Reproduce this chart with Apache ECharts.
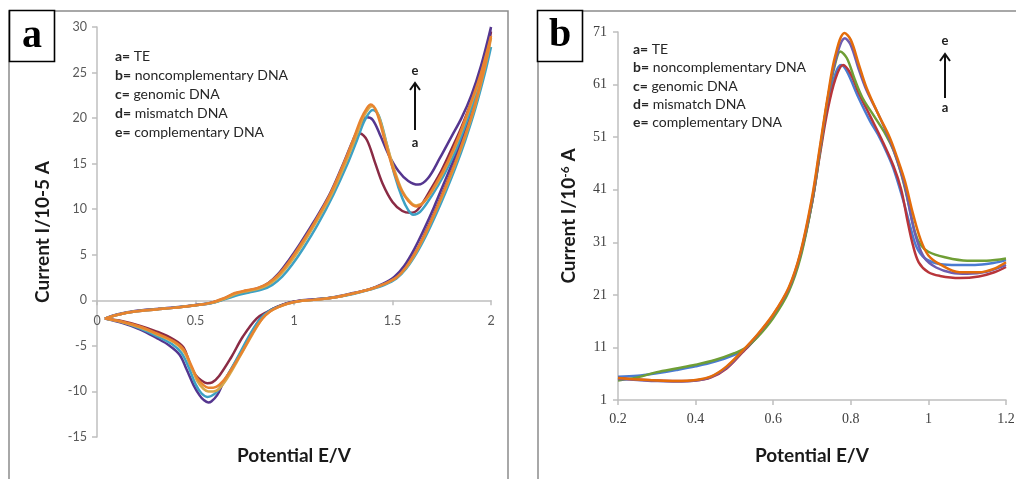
<!DOCTYPE html>
<html><head><meta charset="utf-8">
<script src="https://cdn.jsdelivr.net/npm/echarts@6/dist/echarts.min.js"></script>
<style>html,body{margin:0;padding:0;background:#fff}#c{width:1016px;height:479px}</style>
</head><body><div id="c"></div>
<script>
// ---------- Panel a : cyclic voltammograms (E/V, I/1e-5 A) ----------
const legendNames = ['TE','noncomplementary DNA','genomic DNA','mismatch DNA','complementary DNA'];
const legendLetters = ['a','b','c','d','e'];
const xTicksA = [0,0.5,1,1.5,2];
const yTicksA = [-15,-10,-5,0,5,10,15,20,25,30];
const xTicksB = [0.2,0.4,0.6,0.8,1,1.2];
const yTicksB = [1,11,21,31,41,51,61,71];

const cvA_fwd = [[0.04,-2.0],[0.1,-1.6],[0.2,-1.2],[0.3,-1.0],[0.4,-0.8],[0.5,-0.55],[0.58,-0.3],[0.64,0.1],[0.7,0.7],[0.76,1.0],[0.82,1.3],[0.87,1.8],[0.92,2.8],[0.97,4.2],[1.03,6.0],[1.1,8.4],[1.18,11.4],[1.25,14.8],[1.3,17.2],[1.335,18.3],[1.37,17.6],[1.41,15.2],[1.45,12.8],[1.5,10.8],[1.55,9.8],[1.59,9.6],[1.63,10.0],[1.7,12.4],[1.75,14.3],[1.8,16.6],[1.85,19.0],[1.9,21.8],[1.95,25.2],[2.0,29.5]];
const cvA_rev = [[1.97,26.0],[1.92,21.8],[1.87,18.3],[1.82,15.3],[1.77,12.6],[1.72,10.0],[1.67,7.6],[1.62,5.4],[1.57,3.7],[1.52,2.5],[1.46,1.8],[1.39,1.25],[1.3,0.75],[1.2,0.3],[1.1,0.08],[1.03,-0.05],[0.96,-0.35],[0.91,-0.75],[0.87,-1.2],[0.81,-2.0],[0.74,-4.0],[0.68,-6.3],[0.62,-8.3],[0.585,-9.0],[0.56,-9.1],[0.53,-8.8],[0.5,-8.2],[0.47,-6.9],[0.44,-5.2],[0.39,-4.3],[0.3,-3.4],[0.22,-2.8],[0.13,-2.3],[0.04,-2.0]];

const cvB_fwd = [[0.04,-2.0],[0.1,-1.55],[0.2,-1.15],[0.3,-0.95],[0.4,-0.75],[0.5,-0.5],[0.58,-0.25],[0.64,0.15],[0.7,0.75],[0.76,1.05],[0.82,1.35],[0.87,1.9],[0.92,2.9],[0.97,4.3],[1.03,6.2],[1.1,8.6],[1.18,11.6],[1.25,15.0],[1.3,17.6],[1.34,19.4],[1.37,20.1],[1.4,19.8],[1.44,18.0],[1.48,16.0],[1.53,14.2],[1.58,13.1],[1.63,12.7],[1.68,13.4],[1.74,15.6],[1.8,18.0],[1.85,20.0],[1.9,22.5],[1.95,25.8],[2.0,30.0]];
const cvB_rev = [[1.96,25.4],[1.91,21.6],[1.86,18.2],[1.81,15.4],[1.76,12.8],[1.71,10.2],[1.66,7.8],[1.61,5.6],[1.56,3.8],[1.51,2.6],[1.45,1.8],[1.38,1.2],[1.3,0.8],[1.2,0.35],[1.1,0.1],[1.04,0.0],[0.97,-0.3],[0.92,-0.7],[0.88,-1.1],[0.83,-2.0],[0.78,-3.8],[0.71,-6.5],[0.64,-9.1],[0.61,-10.4],[0.58,-11.1],[0.565,-11.2],[0.54,-10.9],[0.52,-10.4],[0.49,-9.3],[0.455,-7.6],[0.42,-6.0],[0.37,-5.0],[0.3,-4.1],[0.22,-3.2],[0.13,-2.5],[0.04,-2.0]];

const cvC_fwd = [[0.04,-2.0],[0.1,-1.6],[0.2,-1.2],[0.3,-1.0],[0.4,-0.8],[0.5,-0.55],[0.6,-0.2],[0.66,0.2],[0.72,0.6],[0.78,0.9],[0.84,1.2],[0.89,1.7],[0.94,2.6],[0.99,3.9],[1.05,5.8],[1.12,8.3],[1.2,11.6],[1.27,14.9],[1.32,17.6],[1.36,19.8],[1.4,20.9],[1.43,20.3],[1.47,17.2],[1.51,13.8],[1.55,11.2],[1.58,9.9],[1.605,9.4],[1.64,9.7],[1.7,11.5],[1.76,13.7],[1.82,16.4],[1.88,19.8],[1.94,23.5],[2.0,27.8]];
const cvC_rev = [[1.97,25.0],[1.92,21.0],[1.87,17.6],[1.82,14.6],[1.77,11.9],[1.72,9.4],[1.67,7.1],[1.62,5.1],[1.57,3.5],[1.52,2.4],[1.46,1.7],[1.39,1.2],[1.3,0.7],[1.2,0.3],[1.1,0.05],[1.04,-0.05],[0.97,-0.35],[0.92,-0.7],[0.88,-1.1],[0.83,-2.0],[0.78,-3.6],[0.72,-6.0],[0.65,-8.7],[0.61,-10.0],[0.58,-10.5],[0.56,-10.6],[0.53,-10.2],[0.5,-9.2],[0.47,-7.6],[0.43,-5.8],[0.38,-4.8],[0.3,-3.9],[0.22,-3.1],[0.13,-2.4],[0.04,-2.0]];

const cvD_fwd = [[0.04,-2.0],[0.1,-1.6],[0.2,-1.2],[0.3,-1.0],[0.4,-0.8],[0.5,-0.55],[0.59,-0.25],[0.65,0.2],[0.71,0.75],[0.77,1.05],[0.83,1.35],[0.88,1.85],[0.93,2.8],[0.98,4.1],[1.04,6.0],[1.11,8.5],[1.19,11.6],[1.26,15.0],[1.31,17.7],[1.35,20.0],[1.38,21.1],[1.4,21.3],[1.43,20.2],[1.47,17.2],[1.51,14.3],[1.55,12.0],[1.59,10.8],[1.62,10.4],[1.66,10.8],[1.72,12.6],[1.78,15.0],[1.84,18.0],[1.9,21.6],[1.95,24.8],[2.0,28.8]];
const cvD_rev = [[1.97,25.6],[1.92,21.4],[1.87,18.0],[1.82,15.0],[1.77,12.3],[1.72,9.8],[1.67,7.4],[1.62,5.3],[1.57,3.6],[1.52,2.5],[1.46,1.8],[1.39,1.25],[1.3,0.75],[1.2,0.3],[1.1,0.05],[1.04,-0.05],[0.97,-0.35],[0.92,-0.75],[0.88,-1.2],[0.84,-2.0],[0.79,-3.7],[0.73,-6.0],[0.66,-8.6],[0.62,-9.7],[0.59,-10.0],[0.565,-10.0],[0.54,-9.7],[0.51,-8.9],[0.48,-7.4],[0.44,-5.6],[0.39,-4.6],[0.3,-3.7],[0.22,-3.0],[0.13,-2.4],[0.04,-2.0]];

const cvE_fwd = [[0.04,-2.0],[0.1,-1.6],[0.2,-1.2],[0.3,-1.0],[0.4,-0.8],[0.5,-0.55],[0.58,-0.25],[0.64,0.2],[0.7,0.8],[0.76,1.1],[0.82,1.4],[0.87,1.9],[0.92,2.8],[0.97,4.1],[1.03,6.0],[1.1,8.4],[1.18,11.5],[1.25,14.9],[1.3,17.6],[1.34,19.9],[1.37,21.1],[1.39,21.5],[1.42,20.6],[1.46,17.6],[1.5,14.6],[1.54,12.3],[1.58,10.9],[1.62,10.3],[1.66,10.8],[1.72,12.8],[1.78,15.2],[1.84,18.2],[1.9,21.8],[1.95,25.0],[2.0,29.0]];
const cvE_rev = [[1.97,25.8],[1.92,21.6],[1.87,18.2],[1.82,15.2],[1.77,12.5],[1.72,9.9],[1.67,7.5],[1.62,5.4],[1.57,3.7],[1.52,2.5],[1.46,1.8],[1.39,1.25],[1.3,0.75],[1.2,0.3],[1.1,0.05],[1.04,-0.05],[0.97,-0.35],[0.92,-0.75],[0.88,-1.2],[0.84,-2.0],[0.79,-3.6],[0.73,-5.9],[0.66,-8.3],[0.62,-9.3],[0.59,-9.6],[0.565,-9.6],[0.54,-9.3],[0.51,-8.6],[0.48,-7.2],[0.44,-5.4],[0.39,-4.5],[0.3,-3.6],[0.22,-2.9],[0.13,-2.35],[0.04,-2.0]];

// ---------- Panel b : DPV (E/V, I/1e-6 A) ----------
const dpvA = [[0.2,5.2],[0.25,4.9],[0.3,4.7],[0.35,4.6],[0.4,4.7],[0.44,5.3],[0.48,7.0],[0.52,10.0],[0.56,13.2],[0.6,17.0],[0.64,22.0],[0.67,28.5],[0.7,38.5],[0.72,47.5],[0.74,56.0],[0.76,62.0],[0.78,64.7],[0.8,63.0],[0.82,59.5],[0.85,55.0],[0.88,50.5],[0.91,45.5],[0.93,41.0],[0.945,35.5],[0.96,30.5],[0.975,27.2],[1.0,25.3],[1.03,24.6],[1.08,24.2],[1.13,24.5],[1.17,25.3],[1.2,26.3]];
const dpvB = [[0.2,5.4],[0.25,5.6],[0.3,6.1],[0.35,6.7],[0.4,7.4],[0.45,8.3],[0.5,9.6],[0.53,10.8],[0.56,13.2],[0.6,17.0],[0.64,22.0],[0.67,28.5],[0.7,38.5],[0.72,48.0],[0.74,57.0],[0.76,63.0],[0.775,64.7],[0.79,63.5],[0.82,58.5],[0.85,54.0],[0.87,51.5],[0.89,48.5],[0.91,45.0],[0.935,39.0],[0.955,33.5],[0.97,30.0],[0.99,28.0],[1.02,27.0],[1.06,26.7],[1.12,26.7],[1.17,27.1],[1.2,27.6]];
const dpvC = [[0.2,4.7],[0.25,5.3],[0.3,6.3],[0.35,7.0],[0.4,7.7],[0.45,8.6],[0.5,9.9],[0.53,11.0],[0.56,13.0],[0.6,16.6],[0.64,21.6],[0.67,28.0],[0.7,38.5],[0.72,48.0],[0.74,58.0],[0.76,65.0],[0.773,67.3],[0.79,66.0],[0.81,62.0],[0.83,58.5],[0.86,55.0],[0.89,51.5],[0.91,48.5],[0.93,44.0],[0.95,38.0],[0.965,33.0],[0.98,30.5],[1.0,29.2],[1.04,28.2],[1.1,27.5],[1.15,27.5],[1.2,27.9]];
const dpvD = [[0.2,5.0],[0.25,4.8],[0.3,4.6],[0.35,4.5],[0.4,4.7],[0.44,5.4],[0.48,7.2],[0.52,10.2],[0.56,13.4],[0.6,17.2],[0.64,22.2],[0.67,28.8],[0.7,39.0],[0.72,48.5],[0.74,58.0],[0.76,65.5],[0.785,69.8],[0.8,68.5],[0.82,64.0],[0.84,60.0],[0.87,55.5],[0.9,50.5],[0.92,46.5],[0.94,41.5],[0.955,36.0],[0.97,31.5],[0.99,28.0],[1.02,26.2],[1.06,25.2],[1.1,25.0],[1.15,25.4],[1.2,26.7]];
const dpvE = [[0.2,5.2],[0.25,4.9],[0.3,4.7],[0.35,4.6],[0.4,4.8],[0.44,5.5],[0.48,7.4],[0.52,10.3],[0.56,13.5],[0.6,17.3],[0.64,22.4],[0.67,29.0],[0.7,39.5],[0.72,49.0],[0.74,58.5],[0.76,66.5],[0.784,70.8],[0.8,69.5],[0.82,65.0],[0.84,60.5],[0.87,55.5],[0.9,51.0],[0.92,47.0],[0.94,42.5],[0.96,36.5],[0.98,31.5],[1.0,28.5],[1.03,26.8],[1.08,25.3],[1.13,25.3],[1.17,26.0],[1.2,27.2]];

const colorsA = ['#8a2b45','#55368f','#3da1c4','#d6a84a','#e8832f'];
const colorsB = ['#b8353a','#4a7bd1','#6f9e35','#6e5db0','#e46c0a'];

const curvesA = [cvA_fwd.concat(cvA_rev), cvB_fwd.concat(cvB_rev), cvC_fwd.concat(cvC_rev), cvD_fwd.concat(cvD_rev), cvE_fwd.concat(cvE_rev)];
const curvesB = [dpvA, dpvB, dpvC, dpvD, dpvE];
const orderB = [1,0,2,3,4];

const FONT = 'Lato, "Open Sans", sans-serif';
const axisGray = '#bfbfbf';
const labelGray = '#595959';

// panel a geometry: the x axis crosses the y axis at I = 0
const gridA = {left:97, top:27, width:394, height:410};
const yMinA = -15, yMaxA = 30;
const zeroOffsetA = -gridA.height * (0 - yMinA) / (yMaxA - yMinA);

const chart = echarts.init(document.getElementById('c'), null, {renderer:'canvas'});

const series = [];
curvesA.forEach((d,i)=>series.push({type:'line', name:legendLetters[i]+'= '+legendNames[i], xAxisIndex:0, yAxisIndex:0, data:d, smooth:0.35, showSymbol:false, lineStyle:{width:2.5, color:colorsA[i]}, itemStyle:{color:colorsA[i]}, z:2+i}));
orderB.forEach((i,k)=>series.push({type:'line', name:'b-'+legendLetters[i]+'= '+legendNames[i], xAxisIndex:1, yAxisIndex:1, data:curvesB[i], smooth:0.35, showSymbol:false, lineStyle:{width:2.5, color:colorsB[i]}, itemStyle:{color:colorsB[i]}, z:2+k}));

function legendGraphics(x0, ys, size){
  return legendLetters.map((l,i)=>({type:'text', x:x0, y:ys[i], z:100, style:{text:'{b|'+l+'=} '+legendNames[i], rich:{b:{fontWeight:'bold', fontSize:size, fontFamily:FONT, fill:'#262626'}}, fontSize:size, fontFamily:FONT, fill:'#262626', verticalAlign:'middle'}}));
}
function arrow(x, yTop, yBot, yE, yA){
  return [
    {type:'text', x:x, y:yE, z:100, style:{text:'e', fontSize:13, fontWeight:'bold', fontFamily:FONT, fill:'#222', align:'center', verticalAlign:'middle'}},
    {type:'line', z:100, shape:{x1:x, y1:yBot, x2:x, y2:yTop+1}, style:{stroke:'#111', lineWidth:2}},
    {type:'polyline', z:100, shape:{points:[[x-5,yTop+7],[x,yTop],[x+5,yTop+7]]}, style:{stroke:'#111', lineWidth:2, fill:null}},
    {type:'text', x:x, y:yA, z:100, style:{text:'a', fontSize:13, fontWeight:'bold', fontFamily:FONT, fill:'#222', align:'center', verticalAlign:'middle'}}
  ];
}

const graphics = [
  {type:'rect', z:50, shape:{x:9, y:11, width:499, height:490}, style:{fill:null, stroke:'#8c8c8c', lineWidth:1.5}},
  {type:'rect', z:50, shape:{x:538, y:11, width:500, height:490}, style:{fill:null, stroke:'#8c8c8c', lineWidth:1.5}},
  {type:'rect', z:60, shape:{x:9.5, y:10.5, width:45, height:51}, style:{fill:'#fff', stroke:'#000', lineWidth:1.6}},
  {type:'text', z:61, x:32, y:37, style:{text:'a', fontSize:40, fontWeight:'bold', fontFamily:'"Liberation Serif", serif', fill:'#000', align:'center', verticalAlign:'middle'}},
  {type:'rect', z:60, shape:{x:537.5, y:10.5, width:45, height:51}, style:{fill:'#fff', stroke:'#000', lineWidth:1.6}},
  {type:'text', z:61, x:560, y:36, style:{text:'b', fontSize:40, fontWeight:'bold', fontFamily:'"Liberation Serif", serif', fill:'#000', align:'center', verticalAlign:'middle'}}
].concat(legendGraphics(115,[56.7,75.7,94.7,113.5,132.3],14))
 .concat(legendGraphics(633,[49.3,67.5,86,104.5,122.7],14))
 .concat(arrow(415,83,130,71,143))
 .concat(arrow(945,54,98,41,108));

const nameStyle = {fontSize:19, fontWeight:'bold', fontFamily:FONT, color:'#1a1a1a'};

chart.setOption({
  animation:false,
  backgroundColor:'#fff',
  grid:[Object.assign({outerBoundsMode:'none', containLabel:false}, gridA),
        {left:618, top:32, width:388, height:368, outerBoundsMode:'none', containLabel:false}],
  xAxis:[
    {type:'value', gridIndex:0, min:0, max:2, interval:0.5, offset:zeroOffsetA,
     axisLine:{show:true, onZero:false, lineStyle:{color:axisGray, width:1.5}},
     axisTick:{show:true, length:5, lineStyle:{color:axisGray, width:1.5}},
     axisLabel:{color:labelGray, fontFamily:FONT, fontSize:12.5, margin:14, customValues:xTicksA},
     splitLine:{show:false},
     name:'Potential E/V', nameLocation:'middle', nameGap:146, nameTextStyle:nameStyle},
    {type:'value', gridIndex:1, min:0.2, max:1.2, interval:0.2,
     axisLine:{show:true, onZero:false, lineStyle:{color:axisGray, width:1.5}},
     axisTick:{show:true, length:5, lineStyle:{color:axisGray, width:1.5}},
     axisLabel:{color:'#404040', fontFamily:'"Liberation Serif", serif', fontSize:14, margin:12, customValues:xTicksB},
     splitLine:{show:false},
     name:'Potential E/V', nameLocation:'middle', nameGap:46, nameTextStyle:nameStyle}
  ],
  yAxis:[
    {type:'value', gridIndex:0, min:yMinA, max:yMaxA, interval:5,
     axisLine:{show:true, onZero:false, lineStyle:{color:axisGray, width:1.5}},
     axisTick:{show:true, length:5, lineStyle:{color:axisGray, width:1.5}},
     axisLabel:{color:labelGray, fontFamily:FONT, fontSize:12.5, margin:10, customValues:yTicksA},
     splitLine:{show:false},
     name:'Current I/10-5 A', nameLocation:'middle', nameGap:45, nameTextStyle:nameStyle},
    {type:'value', gridIndex:1, min:1, max:71,
     axisLine:{show:true, onZero:false, lineStyle:{color:axisGray, width:1.5}},
     axisTick:{show:true, length:5, lineStyle:{color:axisGray, width:1.5}, customValues:yTicksB},
     axisLabel:{color:'#404040', fontFamily:'"Liberation Serif", serif', fontSize:14, margin:11, customValues:yTicksB},
     splitLine:{show:false},
     name:'Current I/10{sup|-6} A', nameLocation:'middle', nameGap:40,
     nameTextStyle:Object.assign({}, nameStyle, {rich:{sup:{fontSize:12, fontWeight:'bold', fontFamily:FONT, color:'#1a1a1a', verticalAlign:'top', lineHeight:14, padding:[0,0,8,0]}}})}
  ],
  series:series,
  graphic:graphics
});
</script></body></html>
